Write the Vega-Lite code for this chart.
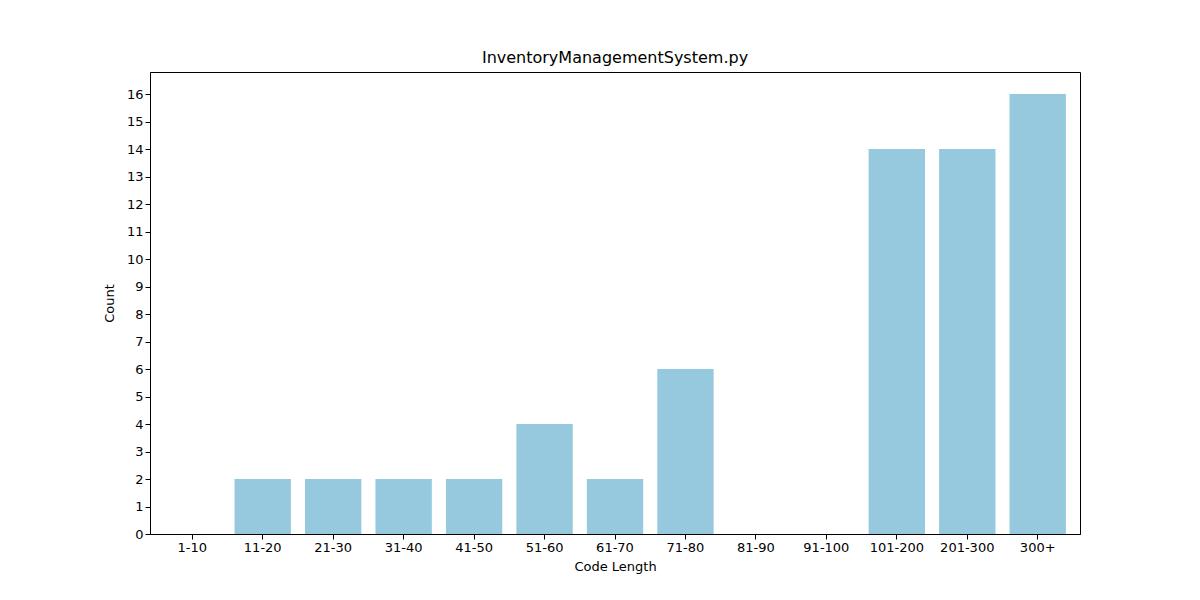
{
  "$schema": "https://vega.github.io/schema/vega-lite/v6.json",
  "width": 930,
  "height": 462,
  "autosize": "none",
  "padding": {"left": 150, "top": 72, "right": 120, "bottom": 66},
  "background": "white",
  "title": {"text": "InventoryManagementSystem.py", "font": "DejaVu Sans", "fontSize": 16, "fontWeight": "normal", "offset": 6},
  "config": {
    "view": {"stroke": "black", "strokeWidth": 1},
    "axis": {"labelFont": "DejaVu Sans", "titleFont": "DejaVu Sans", "labelFontSize": 13, "titleFontSize": 13, "titleFontWeight": "normal", "domainColor": "black", "tickColor": "black", "labelColor": "black", "grid": false}
  },
  "data": {"values": [
    {"len": "1-10", "count": 0},
    {"len": "11-20", "count": 2},
    {"len": "21-30", "count": 2},
    {"len": "31-40", "count": 2},
    {"len": "41-50", "count": 2},
    {"len": "51-60", "count": 4},
    {"len": "61-70", "count": 2},
    {"len": "71-80", "count": 6},
    {"len": "81-90", "count": 0},
    {"len": "91-100", "count": 0},
    {"len": "101-200", "count": 14},
    {"len": "201-300", "count": 14},
    {"len": "300+", "count": 16}
  ]},
  "mark": {"type": "bar", "color": "#96c9dd"},
  "encoding": {
    "x": {"field": "len", "type": "ordinal", "sort": null, "title": "Code Length",
      "scale": {"paddingInner": 0.2, "paddingOuter": 0.2},
      "axis": {"labelAngle": 0, "titlePadding": 6}},
    "y": {"field": "count", "type": "quantitative", "title": "Count",
      "scale": {"domain": [0, 16.8], "nice": false},
      "axis": {"values": [0,1,2,3,4,5,6,7,8,9,10,11,12,13,14,15,16], "titlePadding": 10}}
  }
}
